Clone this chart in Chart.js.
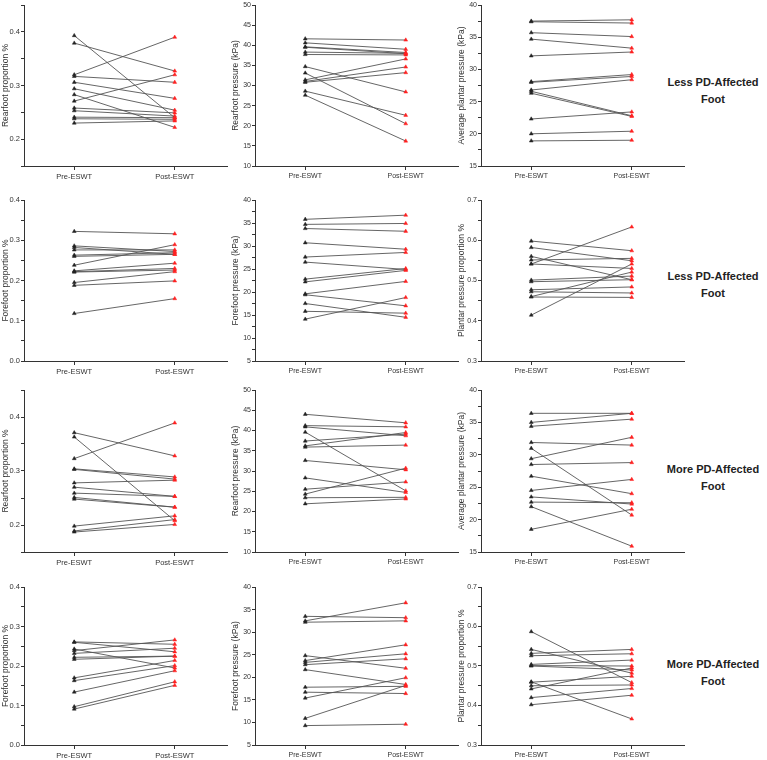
<!DOCTYPE html>
<html>
<head>
<meta charset="utf-8">
<script src="https://cdn.jsdelivr.net/npm/chart.js@4.4.1/dist/chart.umd.min.js"></script>
<style>
  body { margin: 0; width: 767px; height: 760px; background: #fff; position: relative; overflow: hidden; font-family: 'Liberation Sans', Arial, sans-serif; }
  canvas { position: absolute; }
  .side { position: absolute; left: 656px; width: 114px; text-align: center; font-weight: bold; font-size: 11px; line-height: 17px; color: #222; }
</style>
</head>
<body>
<div class="side" style="top:74px">Less PD-Affected<br>Foot</div>
<div class="side" style="top:268px">Less PD-Affected<br>Foot</div>
<div class="side" style="top:461px">More PD-Affected<br>Foot</div>
<div class="side" style="top:656px">More PD-Affected<br>Foot</div>
<script>
'use strict';

const categories = ['Pre-ESWT', 'Post-ESWT'];

// Less PD-affected foot
const lessRearPropPre  = [0.393, 0.379, 0.320, 0.317, 0.306, 0.294, 0.283, 0.271, 0.258, 0.253, 0.241, 0.238, 0.230];
const lessRearPropPost = [0.240, 0.327, 0.390, 0.306, 0.276, 0.254, 0.222, 0.320, 0.249, 0.243, 0.240, 0.237, 0.234];
const lessRearPresPre  = [41.6, 40.6, 39.6, 39.5, 38.3, 37.7, 34.7, 33.1, 31.4, 31.0, 30.8, 28.6, 27.6];
const lessRearPresPost = [41.3, 39.0, 38.2, 37.9, 38.0, 37.6, 28.4, 20.5, 36.6, 34.6, 33.2, 22.6, 16.2];
const lessAvgPresPre   = [37.5, 37.4, 35.7, 34.7, 32.1, 28.1, 28.0, 26.8, 26.6, 26.3, 22.3, 20.0, 18.9];
const lessAvgPresPost  = [37.7, 37.2, 35.1, 33.3, 32.7, 29.2, 28.9, 28.4, 22.8, 22.7, 23.4, 20.4, 19.0];
const lessForePropPre  = [0.322, 0.286, 0.282, 0.276, 0.263, 0.260, 0.238, 0.224, 0.222, 0.221, 0.195, 0.188, 0.118];
const lessForePropPost = [0.316, 0.272, 0.265, 0.276, 0.269, 0.265, 0.289, 0.243, 0.230, 0.226, 0.222, 0.199, 0.155];
const lessForePresPre  = [35.8, 34.7, 33.8, 30.7, 27.6, 26.5, 22.8, 22.2, 19.6, 19.4, 17.5, 15.8, 14.1];
const lessForePresPost = [36.7, 34.9, 33.2, 29.3, 28.6, 24.9, 25.1, 24.7, 22.3, 17.0, 14.5, 15.4, 18.8];
const lessPlantPropPre  = [0.598, 0.582, 0.560, 0.551, 0.541, 0.541, 0.501, 0.497, 0.477, 0.472, 0.460, 0.459, 0.414];
const lessPlantPropPost = [0.574, 0.549, 0.502, 0.555, 0.633, 0.530, 0.511, 0.502, 0.484, 0.469, 0.521, 0.458, 0.541];

// More PD-affected foot
const moreRearPropPre  = [0.371, 0.363, 0.323, 0.304, 0.303, 0.278, 0.270, 0.259, 0.251, 0.248, 0.198, 0.189, 0.187];
const moreRearPropPost = [0.328, 0.208, 0.389, 0.289, 0.285, 0.283, 0.253, 0.253, 0.233, 0.233, 0.217, 0.210, 0.201];
const moreRearPresPre  = [44.0, 41.2, 40.9, 39.6, 37.4, 36.2, 35.9, 32.6, 28.3, 25.5, 24.3, 23.4, 21.9];
const moreRearPresPost = [41.9, 40.9, 38.7, 25.1, 39.1, 39.5, 36.4, 30.3, 24.7, 27.3, 30.7, 23.5, 23.1];
const moreAvgPresPre   = [36.4, 35.0, 34.4, 31.9, 31.0, 29.4, 28.5, 26.7, 24.5, 23.5, 22.7, 22.0, 18.5];
const moreAvgPresPost  = [36.4, 36.4, 35.5, 31.5, 20.7, 32.7, 28.8, 24.0, 26.2, 22.4, 22.6, 15.9, 21.6];
const moreForePropPre  = [0.261, 0.260, 0.243, 0.239, 0.232, 0.222, 0.217, 0.170, 0.163, 0.134, 0.097, 0.091];
const moreForePropPost = [0.255, 0.236, 0.195, 0.266, 0.245, 0.225, 0.225, 0.214, 0.201, 0.188, 0.160, 0.151];
const moreForePresPre  = [33.5, 32.5, 32.2, 24.8, 23.7, 23.3, 22.8, 21.7, 17.8, 16.7, 15.4, 10.9, 9.3];
const moreForePresPost = [33.2, 36.5, 32.5, 22.0, 27.2, 25.2, 24.1, 18.4, 18.0, 16.4, 19.9, 18.2, 9.6];
const morePlantPropPre  = [0.587, 0.542, 0.532, 0.526, 0.504, 0.501, 0.500, 0.459, 0.460, 0.450, 0.442, 0.420, 0.402];
const morePlantPropPost = [0.458, 0.482, 0.542, 0.531, 0.515, 0.500, 0.490, 0.474, 0.366, 0.452, 0.495, 0.443, 0.426];

const panels = [
    { pre: lessRearPropPre,  post: lessRearPropPost,  title: 'Rearfoot proportion %',          min: 0.15, max: 0.45, major: 0.1, minor: 0.05, dec: 1 },
    { pre: lessRearPresPre,  post: lessRearPresPost,  title: 'Rearfoot pressure (kPa)',        min: 10,   max: 50,   major: 5,   minor: 2.5,  dec: 0 },
    { pre: lessAvgPresPre,   post: lessAvgPresPost,   title: 'Average plantar pressure (kPa)', min: 15,   max: 40,   major: 5,   minor: 2.5,  dec: 0 },
    { pre: lessForePropPre,  post: lessForePropPost,  title: 'Forefoot proportion %',          min: 0,    max: 0.4,  major: 0.1, minor: 0.05, dec: 1 },
    { pre: lessForePresPre,  post: lessForePresPost,  title: 'Forefoot pressure (kPa)',        min: 5,    max: 40,   major: 5,   minor: 2.5,  dec: 0 },
    { pre: lessPlantPropPre, post: lessPlantPropPost, title: 'Plantar pressure proportion %',  min: 0.3,  max: 0.7,  major: 0.1, minor: 0.05, dec: 1 },
    { pre: moreRearPropPre,  post: moreRearPropPost,  title: 'Rearfoot proportion %',          min: 0.15, max: 0.45, major: 0.1, minor: 0.05, dec: 1 },
    { pre: moreRearPresPre,  post: moreRearPresPost,  title: 'Rearfoot pressure (kPa)',        min: 10,   max: 50,   major: 5,   minor: 2.5,  dec: 0 },
    { pre: moreAvgPresPre,   post: moreAvgPresPost,   title: 'Average plantar pressure (kPa)', min: 15,   max: 40,   major: 5,   minor: 2.5,  dec: 0 },
    { pre: moreForePropPre,  post: moreForePropPost,  title: 'Forefoot proportion %',          min: 0,    max: 0.4,  major: 0.1, minor: 0.05, dec: 1 },
    { pre: moreForePresPre,  post: moreForePresPost,  title: 'Forefoot pressure (kPa)',        min: 5,    max: 40,   major: 5,   minor: 2.5,  dec: 0 },
    { pre: morePlantPropPre, post: morePlantPropPost, title: 'Plantar pressure proportion %',  min: 0.3,  max: 0.7,  major: 0.1, minor: 0.05, dec: 1 },
];

// geometry of the grid of panels
const colAxisX = [24, 255, 481];
const colAxisW = [24, 26, 26];
const rowTop = [5, 200, 390, 587];
const rowH = [161, 161, 162, 158];
const plotW = 203;
const padTop = 6, padRight = 6, xAxisH = 20;

const axisColor = '#333';
const textColor = '#333';
const fontFamily = "'Liberation Sans', Arial, sans-serif";

function makePanel(p, i) {
    const row = Math.floor(i / 3), col = i % 3;
    const yW = colAxisW[col];
    const canvas = document.createElement('canvas');
    canvas.width = yW + plotW + padRight;
    canvas.height = padTop + rowH[row] + xAxisH;
    canvas.style.left = (colAxisX[col] - yW) + 'px';
    canvas.style.top = (rowTop[row] - padTop) + 'px';
    document.body.appendChild(canvas);

    const datasets = p.pre.map((v, k) => ({
        data: [{ x: 0, y: v }, { x: 1, y: p.post[k] }],
        borderColor: '#555',
        borderWidth: 0.9,
        pointStyle: 'triangle',
        pointRadius: 2.2,
        pointBackgroundColor: ['#222', '#ff2020'],
        pointBorderColor: ['#222', '#ff2020'],
        pointBorderWidth: 0.5
    }));

    const tickFont = { family: fontFamily, size: col === 0 ? 7.5 : 7 };

    new Chart(canvas.getContext('2d'), {
        type: 'line',
        data: { datasets },
        options: {
            responsive: false,
            animation: false,
            devicePixelRatio: 1,
            layout: { padding: { top: padTop, right: padRight, left: 0, bottom: 0 } },
            plugins: { legend: { display: false }, tooltip: { enabled: false } },
            scales: {
                x: {
                    type: 'linear',
                    min: -0.5,
                    max: 1.52,
                    afterBuildTicks: s => { s.ticks = [{ value: 0 }, { value: 1 }]; },
                    afterFit: s => { s.height = xAxisH; },
                    ticks: {
                        callback: v => categories[v],
                        color: textColor,
                        font: tickFont,
                        padding: 2,
                        maxRotation: 0
                    },
                    grid: { drawOnChartArea: false, drawTicks: true, tickLength: 4, color: axisColor },
                    border: { display: true, color: axisColor, width: 1 }
                },
                y: {
                    min: p.min,
                    max: p.max,
                    afterFit: s => { s.width = yW; },
                    ticks: {
                        stepSize: p.minor,
                        color: textColor,
                        font: tickFont,
                        padding: 1,
                        callback: v => {
                            const r = v / p.major;
                            return Math.abs(r - Math.round(r)) < 1e-6 ? Number(v).toFixed(p.dec) : '';
                        }
                    },
                    grid: { drawOnChartArea: false, drawTicks: true, tickLength: 3, color: axisColor },
                    border: { display: true, color: axisColor, width: 1 },
                    title: {
                        display: true,
                        text: p.title,
                        color: textColor,
                        font: { family: fontFamily, size: col === 0 ? 8.5 : 8.5 },
                        padding: { top: col === 0 ? 0.5 : 2, bottom: 0 }
                    }
                }
            }
        }
    });
}

panels.forEach(makePanel);
</script>
</body>
</html>
